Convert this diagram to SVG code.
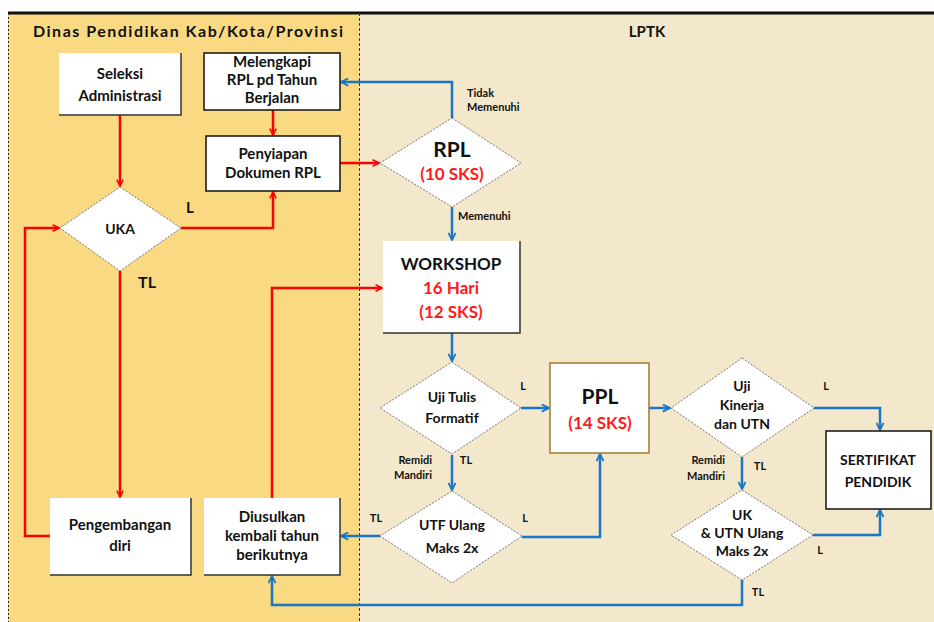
<svg xmlns="http://www.w3.org/2000/svg" width="934" height="622" viewBox="0 0 934 622">
  <defs>
    <marker id="ar" viewBox="0 0 10 10" refX="9" refY="5" markerWidth="8" markerHeight="8" orient="auto" markerUnits="userSpaceOnUse">
      <path d="M1,1 L9,5 L1,9" fill="none" stroke="#FF0000" stroke-width="2"/>
    </marker>
    <marker id="ab" viewBox="0 0 10 10" refX="9" refY="5" markerWidth="9" markerHeight="9" orient="auto" markerUnits="userSpaceOnUse">
      <path d="M1,1 L9,5 L1,9" fill="none" stroke="#1B76C4" stroke-width="2"/>
    </marker>
  </defs>
  <style>
    text { font-family: Lato, "Liberation Sans", Arial, sans-serif; font-weight: bold; fill: #111; text-anchor: middle; }
    .t { font-size: 15px; }
    .s { font-size: 11px; }
    .ls { text-anchor: start; }
    .le { text-anchor: end; }
    .big { font-size: 21px; }
    .mid { font-size: 17px; }
    .red { fill: #FF1A1A; }
    .box { fill: #fff; }
    .sh { fill: none; stroke: #333; stroke-width: 1.5; }
    .bd { fill: #fff; stroke: #111; stroke-width: 1.5; }
    .dia { fill: #fff; stroke: #777; stroke-width: 1; stroke-dasharray: 2 1.5; }
    .rl { fill: none; stroke: #FF0000; stroke-width: 2.5; }
    .bl { fill: none; stroke: #1B76C4; stroke-width: 2.5; }
  </style>

  <!-- page and lanes -->
  <rect x="0" y="0" width="934" height="622" fill="#fff"/>
  <rect x="8" y="13" width="351" height="609" fill="#F9D982"/>
  <rect x="359" y="13" width="575" height="609" fill="#F3E8CC"/>
  <line x1="8" y1="13" x2="934" y2="13" stroke="#111" stroke-width="3"/>
  <line x1="8.5" y1="13" x2="8.5" y2="622" stroke="#222" stroke-width="1" stroke-dasharray="2 2"/>
  <line x1="359.5" y1="13" x2="359.5" y2="622" stroke="#333" stroke-width="1" stroke-dasharray="3 2"/>
  <text x="188" y="37" style="font-size:16px" textLength="310" lengthAdjust="spacing">Dinas Pendidikan Kab/Kota/Provinsi</text>
  <text x="647" y="37" style="font-size:15px">LPTK</text>

  <!-- connectors -->
  <g id="connectors">
    <path class="rl" d="M120,115 V186" marker-end="url(#ar)"/>
    <path class="rl" d="M273,110 V135" marker-end="url(#ar)"/>
    <path class="rl" d="M340,163 H379" marker-end="url(#ar)"/>
    <path class="rl" d="M181,228 H273 V192" marker-end="url(#ar)"/>
    <path class="rl" d="M120,271 V497" marker-end="url(#ar)"/>
    <path class="rl" d="M50,536 H25 V228 H59" marker-end="url(#ar)"/>
    <path class="rl" d="M272,498 V288 H382" marker-end="url(#ar)"/>

    <path class="bl" d="M452,118 V82 H341" marker-end="url(#ab)"/>
    <path class="bl" d="M452,207 V240" marker-end="url(#ab)"/>
    <path class="bl" d="M452,333 V361" marker-end="url(#ab)"/>
    <path class="bl" d="M521,408 H549" marker-end="url(#ab)"/>
    <path class="bl" d="M649,408 H670" marker-end="url(#ab)"/>
    <path class="bl" d="M452,455 V490" marker-end="url(#ab)"/>
    <path class="bl" d="M380,536 H341" marker-end="url(#ab)"/>
    <path class="bl" d="M522,537 H600 V454" marker-end="url(#ab)"/>
    <path class="bl" d="M814,408 H880 V430" marker-end="url(#ab)"/>
    <path class="bl" d="M742,457 V489" marker-end="url(#ab)"/>
    <path class="bl" d="M813,535 H880 V510" marker-end="url(#ab)"/>
    <path class="bl" d="M742,580 V605 H272 V576" marker-end="url(#ab)"/>

    <text x="190" y="213" style="font-size:15px">L</text>
    <text x="147" y="288" style="font-size:16px">TL</text>
    <text x="467" y="97" class="s ls">Tidak</text>
    <text x="467" y="111" class="s ls">Memenuhi</text>
    <text x="458" y="220" class="s ls">Memenuhi</text>
    <text x="523" y="390" class="s">L</text>
    <text x="432" y="464" class="s le">Remidi</text>
    <text x="432" y="479" class="s le">Mandiri</text>
    <text x="466" y="464" class="s">TL</text>
    <text x="376" y="522" class="s">TL</text>
    <text x="525" y="522" class="s">L</text>
    <text x="826" y="390" class="s">L</text>
    <text x="725" y="464" class="s le">Remidi</text>
    <text x="725" y="480" class="s le">Mandiri</text>
    <text x="760" y="470" class="s">TL</text>
    <text x="820" y="554" class="s">L</text>
    <text x="758" y="596" class="s">TL</text>
  </g>

  <!-- process boxes -->
  <g id="seleksi">
    <rect class="box" x="59" y="53" width="122" height="62"/>
    <path class="sh" d="M59,115 H181 V53"/>
    <text class="t" x="120" y="79">Seleksi</text>
    <text class="t" x="120" y="101">Administrasi</text>
  </g>
  <g id="melengkapi">
    <rect class="bd" x="204" y="53" width="136" height="57"/>
    <text class="t" x="272" y="67">Melengkapi</text>
    <text class="t" x="272" y="85">RPL pd Tahun</text>
    <text class="t" x="272" y="103">Berjalan</text>
  </g>
  <g id="penyiapan">
    <rect class="bd" x="206" y="136" width="134" height="55"/>
    <text class="t" x="273" y="159">Penyiapan</text>
    <text class="t" x="273" y="178">Dokumen RPL</text>
  </g>
  <g id="uka">
    <polygon class="dia" points="120,187 181,228 120,271 60,228"/>
    <text x="120" y="234" style="font-size:14px">UKA</text>
  </g>
  <g id="pengembangan">
    <rect class="box" x="50" y="498" width="141" height="77"/>
    <path class="sh" d="M50,575 H191 V498"/>
    <text class="t" x="120" y="530">Pengembangan</text>
    <text class="t" x="120" y="551">diri</text>
  </g>
  <g id="diusulkan">
    <rect class="box" x="204" y="498" width="136" height="77"/>
    <path class="sh" d="M204,575 H340 V498"/>
    <text class="t" x="272" y="522">Diusulkan</text>
    <text class="t" x="272" y="541">kembali tahun</text>
    <text class="t" x="272" y="560">berikutnya</text>
  </g>

  <g id="rpl">
    <polygon class="dia" points="452,118 521,163 452,207 380,163"/>
    <text class="big" x="452" y="157">RPL</text>
    <text class="mid red" x="452" y="180">(10 SKS)</text>
  </g>
  <g id="workshop">
    <rect class="box" x="383" y="241" width="137" height="92"/>
    <path class="sh" d="M383,333 H520 V241"/>
    <text class="mid" x="451" y="270">WORKSHOP</text>
    <text class="mid red" x="451" y="294">16 Hari</text>
    <text class="mid red" x="451" y="318">(12 SKS)</text>
  </g>
  <g id="uji-tulis">
    <polygon class="dia" points="452,362 521,408 452,454 380,408"/>
    <text x="452" y="402" style="font-size:14px">Uji Tulis</text>
    <text x="452" y="423" style="font-size:14px">Formatif</text>
  </g>
  <g id="utf-ulang">
    <polygon class="dia" points="452,491 522,536 452,583 380,536"/>
    <text x="452" y="530" style="font-size:14px">UTF Ulang</text>
    <text x="452" y="553" style="font-size:14px">Maks 2x</text>
  </g>
  <g id="ppl">
    <rect x="550" y="363" width="99" height="90" fill="#fff" stroke="#9E7A2E" stroke-width="1.5"/>
    <text class="big" x="600" y="404">PPL</text>
    <text class="mid red" x="600" y="429">(14 SKS)</text>
  </g>
  <g id="uji-kinerja">
    <polygon class="dia" points="742,358 814,408 742,457 671,408"/>
    <text x="742" y="391" style="font-size:14px">Uji</text>
    <text x="742" y="410" style="font-size:14px">Kinerja</text>
    <text x="742" y="429" style="font-size:14px">dan UTN</text>
  </g>
  <g id="uk-utn-ulang">
    <polygon class="dia" points="742,490 813,535 742,580 671,535"/>
    <text x="742" y="520" style="font-size:14px">UK</text>
    <text x="742" y="538" style="font-size:14px">&amp; UTN Ulang</text>
    <text x="742" y="556" style="font-size:14px">Maks 2x</text>
  </g>
  <g id="sertifikat">
    <rect class="bd" x="826" y="431" width="105" height="78"/>
    <text x="878" y="465" style="font-size:14px">SERTIFIKAT</text>
    <text x="878" y="487" style="font-size:14px">PENDIDIK</text>
  </g>
</svg>
